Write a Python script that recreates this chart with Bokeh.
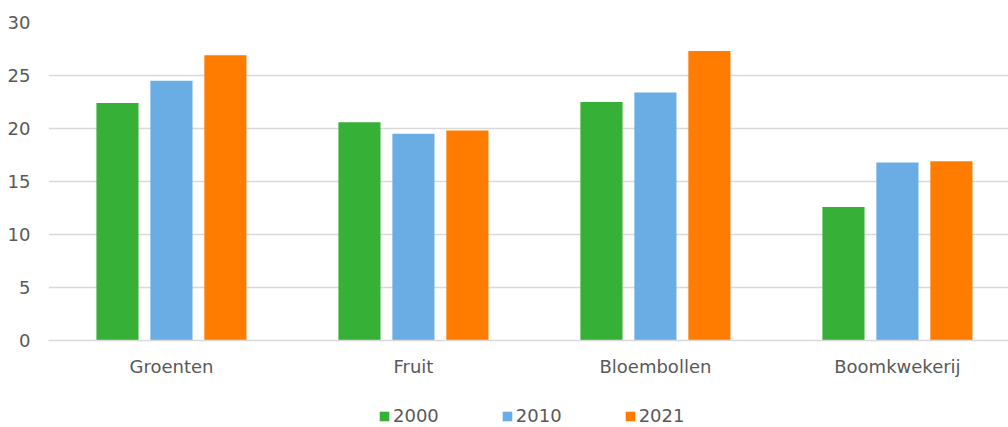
from bokeh.plotting import figure
from bokeh.layouts import column
from bokeh.models import ColumnDataSource, Range1d, FixedTicker, Legend, LegendItem
from bokeh.transform import dodge
from bokeh.embed import file_html
from bokeh.resources import INLINE

categories = ["Groenten", "Fruit", "Bloembollen", "Boomkwekerij"]
years = ["2000", "2010", "2021"]
v2000 = [22.4, 20.6, 22.5, 12.6]
v2010 = [24.5, 19.5, 23.4, 16.8]
v2021 = [26.9, 19.8, 27.3, 16.9]
colors = ["#36b037", "#6aade4", "#ff7c00"]

FONT = "DejaVu Sans"
TXT = "#595959"

src = ColumnDataSource(dict(idx=list(range(len(categories))), cat=categories,
                            y2000=v2000, y2010=v2010, y2021=v2021))

p = figure(width=1008, height=390, output_backend="svg", toolbar_location=None,
           x_range=Range1d(-0.508, 3.459), y_range=Range1d(0, 30),
           min_border_left=48, min_border_right=0, min_border_top=22,
           min_border_bottom=50)
p.outline_line_color = None
p.background_fill_color = "white"
p.border_fill_color = "white"

offsets = [-0.223, 0.0, 0.223]
for yr, col, off in zip(years, colors, offsets):
    p.vbar(x=dodge("idx", off), top="y" + yr, width=0.174, bottom=0,
           source=src, fill_color=col, line_color=None)

p.xgrid.visible = False
p.ygrid.grid_line_color = "#d9d9d9"
p.ygrid.grid_line_width = 1.5

p.yaxis.ticker = FixedTicker(ticks=[0, 5, 10, 15, 20, 25, 30])
p.yaxis.axis_line_color = None
p.yaxis.major_tick_line_color = None
p.yaxis.minor_tick_line_color = None
p.yaxis.major_label_standoff = 12
p.yaxis.major_label_text_font = FONT
p.yaxis.major_label_text_font_size = "18px"
p.yaxis.major_label_text_color = TXT

p.xaxis.ticker = FixedTicker(ticks=list(range(len(categories))))
p.xaxis.major_label_overrides = {i: c for i, c in enumerate(categories)}
p.xaxis.axis_line_color = "#d9d9d9"
p.xaxis.axis_line_width = 1.5
p.xaxis.major_tick_line_color = None
p.xaxis.minor_tick_line_color = None
p.xaxis.major_label_standoff = 9
p.xaxis.major_label_text_font = FONT
p.xaxis.major_label_text_font_size = "18px"
p.xaxis.major_label_text_color = TXT

# legend strip below the chart (its swatch renderers lie outside its y range)
pl = figure(width=1008, height=37, output_backend="svg", toolbar_location=None,
            x_range=p.x_range, y_range=Range1d(1000, 1001),
            x_axis_location=None, y_axis_location=None,
            min_border_left=48, min_border_right=0, min_border_top=0,
            min_border_bottom=0)
pl.outline_line_color = None
pl.grid.visible = False
swatches = []
for yr, col, off in zip(years, colors, offsets):
    swatches.append(pl.vbar(x=dodge("idx", off), top="y" + yr, width=0.174, bottom=0,
                            source=src, fill_color=col, line_color=None))

legend = Legend(items=[LegendItem(label=yr, renderers=[r]) for yr, r in zip(years, swatches)],
                orientation="horizontal", location=(330, 1),
                glyph_width=12, glyph_height=12, label_standoff=3, spacing=62,
                padding=0, margin=0, border_line_color=None,
                background_fill_alpha=0,
                label_text_font=FONT, label_text_font_size="18px",
                label_text_color=TXT, label_height=14)
pl.add_layout(legend, "center")

layout = column(p, pl, spacing=0)
open("out.html", "w").write(file_html(layout, INLINE))
